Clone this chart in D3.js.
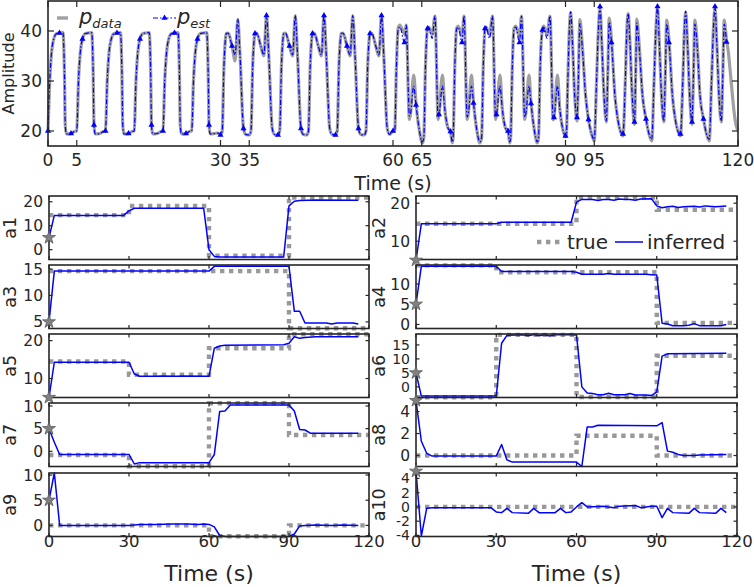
<!DOCTYPE html>
<html><head><meta charset="utf-8">
<script src="https://cdn.jsdelivr.net/npm/d3@7"></script>
<style>
body{margin:0;background:#fff}
svg{display:block}
text{font-family:"DejaVu Sans",sans-serif;fill:#262626}
</style>
</head><body>
<svg id="c" width="754" height="587"></svg>
<script>
// ---------------- top panel data (time s, amplitude) ----------------
const pEstPts = [
[0,20],[0.3,30],[0.6,35.5],[1,38.4],[1.5,39.5],[2,39.6],[2.6,39.7],[2.85,32],[3,21.2],[3.2,19.4],[4,19.5],[4.6,19.9],
[5,20],[5.3,30],[5.6,35.5],[6,38.4],[6.5,39.5],[7,39.6],[7.6,39.7],[7.85,32],[8,21.2],[8.2,19.4],[9,19.5],[9.6,19.9],
[10,20],[10.3,30],[10.6,35.5],[11,38.4],[11.5,39.5],[12,39.6],[12.6,39.7],[12.85,32],[13,21.2],[13.2,19.4],[14,19.5],[14.6,19.9],
[15,20],[15.3,30],[15.6,35.5],[16,38.4],[16.5,39.5],[17,39.6],[17.6,39.7],[17.85,32],[18,21.2],[18.2,19.4],[19,19.5],[19.6,19.9],
[20,20],[20.3,30],[20.6,35.5],[21,38.4],[21.5,39.5],[22,39.6],[22.6,39.7],[22.85,32],[23,21.2],[23.2,19.4],[24,19.5],[24.6,19.9],
[25,20],[25.3,30],[25.6,35.5],[26,38.4],[26.5,39.5],[27,39.6],[27.6,39.7],[27.85,32],[28,21.2],[28.2,19.4],[29,19.5],[29.6,19.6],
[30,19.2],
[30.3,20],[30.6,33],[30.9,38.8],[31,39.5],[31.3,39.6],[32,37],[32.55,35.2],[33,42.5],[33.4,35],[34,20.5],[34.4,19.3],[35,19.2],
[35.3,20],[35.6,33],[35.9,38.8],[36,39.5],[36.3,39.6],[37,37],[37.55,35.2],[38,43.1],[38.4,35],[39,20.5],[39.4,19.3],[40,19.2],
[40.3,20],[40.6,33],[40.9,38.8],[41,39.5],[41.3,39.6],[42,37],[42.55,35.2],[43,43.1],[43.4,35],[44,20.5],[44.4,19.3],[45,19.2],
[45.3,20],[45.6,33],[45.9,38.8],[46,39.5],[46.3,39.6],[47,37],[47.55,35.2],[48,43.1],[48.4,35],[49,20.5],[49.4,19.3],[50,19.2],
[50.3,20],[50.6,33],[50.9,38.8],[51,39.5],[51.3,39.6],[52,37],[52.55,35.2],[53,43.1],[53.4,35],[54,20.5],[54.4,19.3],[55,19.2],
[55.3,20],[55.6,33],[55.9,38.8],[56,39.5],[56.3,39.6],[57,37],[57.55,35.2],[58,43.1],[58.4,35],[59,20.5],[59.4,19.3],[60,20],
[60.3,20],[60.6,33],[60.9,40.3],[61.2,40.8],[62,37.7],[62.3,41.2],[62.85,23],[63.05,23.5],[63.6,29],[64,25.2],[64.6,20],[65.1,17.8],
[65.35,18.5],[65.65,33],[66,40.5],[66.2,40.8],[66.8,38.5],[67.3,43],[67.85,22.8],[68,23.3],[68.6,29],[69,24.5],[69.6,20.5],[70,19.9],[70.3,17.8],
[70.45,18.5],[70.75,33],[71.05,40.3],[71.35,40.8],[72,37.7],[72.35,43],[72.9,22.8],[73.1,23.5],[73.65,29],[74,25.6],[74.6,20],[75.1,17.8],
[75.4,18.5],[75.7,33],[76,40.5],[76.2,40.8],[76.8,38.5],[77.3,43],[77.85,22.8],[78,23.3],[78.6,29],[79,24.5],[79.6,20.5],[80,20],[80.3,17.8],
[80.45,18.5],[80.75,33],[81.05,40.3],[81.35,40.8],[82,37.7],[82.35,43],[82.9,22.8],[83.1,23.5],[83.65,29],[84,25.5],[84.6,20],[85.1,17.8],
[85.3,18.5],[85.6,33],[86,40.2],[86.2,40.8],[86.8,38.5],[87.3,43],[87.85,22.5],[88,22.7],[88.6,29],[89,24.5],[89.6,20],[90,19],
[90.15,19.2],[90.4,30],[90.7,41],[90.9,43.9],[91.2,38],[91.6,27],[92,22.7],[92.25,31],[92.5,41.5],[92.9,37],[93.5,27],[94,22.3],[94.5,19.5],[95,18.3],
[95.4,30],[95.75,41],[96,44.9],[96.3,38],[96.7,27],[97.1,22],[97.35,31],[97.6,41.8],[98,37.7],[98.6,27],[99.1,22.3],[99.6,19.8],[100,19.4],
[100.4,30],[100.7,41],[100.9,43.5],[101.2,38],[101.6,27],[102,21.8],[102.2,31],[102.4,41.6],[102.8,37],[103.4,27],[104,22.4],[104.5,19.5],[105,18.3],
[105.4,30],[105.75,41],[106,44.9],[106.3,38],[106.7,27],[107.1,22],[107.35,31],[107.6,41.4],[108,37.7],[108.6,27],[109.1,22.3],[109.6,19.8],[110,19.4],
[110.4,30],[110.7,41],[110.9,44],[111.2,38],[111.6,27],[112,21.8],[112.25,31],[112.5,41.4],[112.9,37],[113.4,27],[114,22.4],[114.5,19.5],[115,18.3],
[115.4,30],[115.75,41],[116,44.9],[116.3,38],[116.7,27],[117.1,22],[117.35,31],[117.6,41.4],[118,37.8]
];
const pDataPts = [
[0,20],[0.3,30],[0.6,35.5],[1,38.4],[1.5,39.5],[2,39.6],[2.6,39.7],[2.85,32],[3,21.2],[3.2,19.4],[4,19.5],[4.6,19.9],
[5,20],[5.3,30],[5.6,35.5],[6,38.4],[6.5,39.5],[7,39.6],[7.6,39.7],[7.85,32],[8,21.2],[8.2,19.4],[9,19.5],[9.6,19.9],
[10,20],[10.3,30],[10.6,35.5],[11,38.4],[11.5,39.5],[12,39.6],[12.6,39.7],[12.85,32],[13,21.2],[13.2,19.4],[14,19.5],[14.6,19.9],
[15,20],[15.3,30],[15.6,35.5],[16,38.4],[16.5,39.5],[17,39.6],[17.6,39.7],[17.85,32],[18,21.2],[18.2,19.4],[19,19.5],[19.6,19.9],
[20,20],[20.3,30],[20.6,35.5],[21,38.4],[21.5,39.5],[22,39.6],[22.6,39.7],[22.85,32],[23,21.2],[23.2,19.4],[24,19.5],[24.6,19.9],
[25,20],[25.3,30],[25.6,35.5],[26,38.4],[26.5,39.5],[27,39.6],[27.6,39.7],[27.85,32],[28,21.2],[28.2,19.4],[29,19.5],[29.6,19.6],
[30,19.2],
[30.3,20],[30.6,33],[30.9,38.8],[31,39.5],[31.3,39.6],[32,37],[32.55,34],[33,42.3],[33.4,35],[34,20.5],[34.4,19.3],[35,19.2],
[35.3,20],[35.6,33],[35.9,38.8],[36,39.5],[36.3,39.6],[37,37],[37.55,35],[38,43.1],[38.4,35],[39,20.5],[39.4,19.3],[40,19.2],
[40.3,20],[40.6,33],[40.9,38.8],[41,39.5],[41.3,39.6],[42,37],[42.55,35],[43,43.1],[43.4,35],[44,20.5],[44.4,19.3],[45,19.2],
[45.3,20],[45.6,33],[45.9,38.8],[46,39.5],[46.3,39.6],[47,37],[47.55,35],[48,43.1],[48.4,35],[49,20.5],[49.4,19.3],[50,19.2],
[50.3,20],[50.6,33],[50.9,38.8],[51,39.5],[51.3,39.6],[52,37],[52.55,35],[53,43.1],[53.4,35],[54,20.5],[54.4,19.3],[55,19.2],
[55.3,20],[55.6,33],[55.9,38.8],[56,39.5],[56.3,39.6],[57,37],[57.55,35],[58,43.1],[58.4,35],[59,20.5],[59.4,19.3],[60,20],
[60.3,20],[60.6,33],[60.9,40.6],[61.2,41.2],[62,39.4],[62.3,41.2],[62.85,22.3],[63.05,23.5],[63.6,31.2],[64,25.6],[64.6,20],[65.1,17.6],
[65.35,18.5],[65.65,33],[66,40.5],[66.2,40.8],[66.8,39.3],[67.3,43],[67.85,22.3],[68,23.3],[68.6,31.2],[69,24.5],[69.6,20.5],[70,19.9],[70.3,17.6],
[70.45,18.5],[70.75,33],[71.05,40.5],[71.35,41],[72,39],[72.35,43],[72.9,22.3],[73.1,23.5],[73.65,31.2],[74,25.8],[74.6,20],[75.1,17.6],
[75.4,18.5],[75.7,33],[76,40.5],[76.2,40.8],[76.8,39.3],[77.3,43],[77.85,22.3],[78,23.3],[78.6,31.2],[79,24.5],[79.6,20.5],[80,20],[80.3,17.6],
[80.45,18.5],[80.75,33],[81.05,40.5],[81.35,41],[82,39],[82.35,43],[82.9,22.3],[83.1,23.5],[83.65,31.2],[84,25.7],[84.6,20],[85.1,17.6],
[85.3,18.5],[85.6,33],[86,40.4],[86.2,41],[86.8,39.3],[87.3,43],[87.85,22.2],[88,22.7],[88.6,31.2],[89,24.5],[89.6,20],[90,18.8],
[90.15,19.2],[90.4,30],[90.7,41],[90.9,43.7],[91.2,38],[91.6,27],[92,22],[92.25,31],[92.5,42.3],[92.9,37.5],[93.5,27],[94,22.3],[94.5,19.5],[95,18],
[95.4,30],[95.75,41],[96,44.6],[96.3,38],[96.7,27],[97.1,21.8],[97.35,31],[97.6,42.6],[98,38.2],[98.6,27],[99.1,22.3],[99.6,19.8],[100,19],
[100.4,30],[100.7,41],[100.9,43.5],[101.2,38],[101.6,27],[102,21.3],[102.2,31],[102.4,42.4],[102.8,37.5],[103.4,27],[104,22.4],[104.5,19.5],[105,18],
[105.4,30],[105.75,41],[106,44.6],[106.3,38],[106.7,27],[107.1,21.8],[107.35,31],[107.6,42.2],[108,38.2],[108.6,27],[109.1,22.3],[109.6,19.8],[110,19],
[110.4,30],[110.7,41],[110.9,43.8],[111.2,38],[111.6,27],[112,21.3],[112.25,31],[112.5,42.2],[112.9,37.5],[113.4,27],[114,22.4],[114.5,19.5],[115,18],
[115.4,30],[115.75,41],[116,44.6],[116.3,38],[116.7,27],[117.1,21.8],[117.35,31],[117.6,42.2],[118,38.2],[118.3,36],[118.8,30],[119.3,24],[119.7,21],[120,20.2]
];
const topXTicks = [0,5,30,35,60,65,90,95,120];
const topYTicks = [20,30,40];
const topXDomain = [0,120];
const topYDomain = [17,46];

// ---------------- parameter panels ----------------
const segStarts = [0,30,60,90];
const segEnd = 120;
const priorValue = 5;
const subXTicks = [0,30,60,90,120];

const trueA1 = [14.4,18.2,-2.5,21.8];
const trueA2 = [14.6,14.6,21.5,18.3];
const trueA3 = [14.6,14.6,14.6,3.8];
const trueA4 = [14.6,12.9,12.9,0.4];
const trueA5 = [14.5,11.0,18.0,21.7];
const trueA6 = [-3.7,18.6,-3.6,11.1];
const trueA7 = [-0.8,-3.3,10.6,3.6];
const trueA8 = [0,0,1.8,0];
const trueA9 = [0,0,-2.15,0];
const trueA10 = [0,0,0,0];

const infA1 = [[0,5],[2,14.3],[28,14.3],[30,16.2],[32,17.3],[58,17.3],[60,0],[62,-2.8],[64,-3.1],[88,-3.1],[90,18.3],[92,20.2],[94,20.5],[100,20.7],[116,20.6]];
const infA2 = [[0,5],[2,14.6],[30,14.6],[32,15],[58,15],[60,20.3],[62,21],[66,21],[68,20.7],[70,21],[72,21],[74,20.8],[76,21.1],[78,21],[80,21],[82,20.8],[84,21.1],[88,21.2],[90,19.3],[92,18.8],[94,19.1],[96,19.2],[98,18.9],[100,19.1],[104,19.2],[106,19],[108,19.3],[112,19.1],[116,19.3]];
const infA3 = [[0,5],[2,14.6],[60,14.6],[62,15.5],[90,15.5],[92,7.0],[94,7.0],[96,4.8],[104,4.8],[106,4.6],[108,4.8],[114,4.8],[116,4.6]];
const infA4 = [[0,5],[2,14.4],[30,14.4],[32,13.1],[58,13.1],[60,12.9],[62,12.4],[70,12.4],[72,12.6],[74,12.4],[86,12.4],[88,12.3],[90,12.2],[92,0.3],[94,0.1],[96,-0.3],[100,-0.3],[102,-0.2],[104,0.2],[106,-0.3],[114,-0.3],[116,0]];
const infA5 = [[0,5],[2,14.3],[30,14.3],[32,11.2],[34,10.6],[40,10.6],[42,10.7],[48,10.6],[50,10.7],[60,10.6],[62,18],[64,18.6],[66,18.8],[88,18.9],[90,19.3],[92,21],[94,20.6],[96,20.8],[100,21],[116,21]];
const infA6 = [[0,5],[2,-3.3],[30,-3.3],[32,15.6],[34,18.4],[40,18.6],[42,18.3],[44,18.7],[46,18.3],[48,18.6],[50,18.2],[52,18.6],[58,18.6],[60,18.5],[62,0],[64,-2.2],[66,-2.4],[68,-2.8],[70,-2.8],[72,-2.3],[74,-2.8],[78,-2.8],[80,-2.4],[82,-2.9],[86,-2.9],[88,-3.1],[90,-1.8],[92,11],[94,11.8],[116,12]];
const infA7 = [[0,5],[2,2],[4,-0.7],[30,-0.7],[32,-2.8],[34,-2.5],[60,-2.5],[62,-0.7],[64,8.8],[66,8.9],[68,10.2],[90,10.2],[92,8.9],[94,4.8],[96,4.7],[98,4.0],[116,4.0]];
const infA8 = [[0,5],[2,1.3],[4,0.2],[6,-0.05],[30,-0.05],[32,1.0],[34,-0.4],[36,-0.6],[60,-0.6],[62,-1.0],[64,2.6],[66,2.6],[68,2.75],[90,2.7],[92,3.0],[94,0.4],[96,0.3],[98,0.1],[100,0],[104,0],[106,0.05],[116,0.1]];
const infA9 = [[0,5],[2,10.4],[4,0],[30,0],[34,0.2],[40,0.2],[46,0.3],[52,0.3],[56,0.2],[58,0.3],[60,0.2],[62,-0.3],[64,-2.0],[66,-2.2],[90,-2.2],[92,-1.7],[94,-0.1],[96,0],[100,0.1],[106,0],[110,0.1],[116,0]];
const infA10 = [[0,5],[2,-4.1],[4,-0.2],[6,-0.1],[28,-0.1],[30,-0.7],[32,-0.8],[34,-0.2],[36,-0.8],[42,-0.9],[44,-0.2],[46,-0.8],[52,-0.8],[54,-0.2],[56,-0.8],[58,-0.7],[60,0],[62,0.6],[64,0],[70,0.1],[74,-0.1],[76,0.1],[82,0.2],[84,-0.1],[88,0.1],[90,0.1],[92,-1.5],[94,-0.2],[96,-0.8],[102,-0.9],[104,-0.2],[106,-0.8],[112,-0.9],[114,-0.2],[116,-0.8]];

const yLimA1=[-4.1,22.4], yLimA2=[5.2,21.9], yLimA3=[3.75,15.75], yLimA4=[-1,14.7], yLimA5=[5,21.75],
      yLimA6=[-3.8,18.9], yLimA7=[-3.35,10.66], yLimA8=[-1,4.78], yLimA9=[-2.2,10.4], yLimA10=[-4.15,4.76];
const yTicksA1=[0,10,20], yTicksA2=[10,20], yTicksA3=[5,10,15], yTicksA4=[0,5,10], yTicksA5=[10,20],
      yTicksA6=[0,5,10,15], yTicksA7=[0,5,10], yTicksA8=[0,2,4], yTicksA9=[0,5,10], yTicksA10=[-4,-2,0,2,4];
const paramNames = ["a1","a2","a3","a4","a5","a6","a7","a8","a9","a10"];

const panels = [
 {tr:trueA1,inf:infA1,lim:yLimA1,ticks:yTicksA1},
 {tr:trueA2,inf:infA2,lim:yLimA2,ticks:yTicksA2},
 {tr:trueA3,inf:infA3,lim:yLimA3,ticks:yTicksA3},
 {tr:trueA4,inf:infA4,lim:yLimA4,ticks:yTicksA4},
 {tr:trueA5,inf:infA5,lim:yLimA5,ticks:yTicksA5},
 {tr:trueA6,inf:infA6,lim:yLimA6,ticks:yTicksA6},
 {tr:trueA7,inf:infA7,lim:yLimA7,ticks:yTicksA7},
 {tr:trueA8,inf:infA8,lim:yLimA8,ticks:yTicksA8},
 {tr:trueA9,inf:infA9,lim:yLimA9,ticks:yTicksA9},
 {tr:trueA10,inf:infA10,lim:yLimA10,ticks:yTicksA10}
].map((p,i)=>Object.assign(p,{name:paramNames[i]}));

// ---------------- drawing ----------------
const svg = d3.select("#c");
const AX = "#262626";
const GRAY = "#999999";
const BLUE = "#0000ff";

// ---- top panel
const T = {l:48, r:738, t:1, b:146};
const tx = d3.scaleLinear(topXDomain,[T.l,T.r]);
const ty = d3.scaleLinear(topYDomain,[T.b,T.t]);
const gTop = svg.append("g");
const lineTop = d3.line().x(d=>tx(d[0])).y(d=>ty(d[1])).curve(d3.curveMonotoneX);
gTop.append("path").attr("d",lineTop(pDataPts)).attr("fill","none")
  .attr("stroke","#a0a0a0").attr("stroke-width",3.2).attr("stroke-linejoin","round");
gTop.append("path").attr("d",lineTop(pEstPts)).attr("fill","none")
  .attr("stroke",BLUE).attr("stroke-width",1.2).attr("stroke-dasharray","5,2,1.5,2");
const tri = d3.symbol().type(d3.symbolTriangle).size(16);
gTop.selectAll("path.mk").data(pEstPts.filter(d=>Math.abs(d[0]/2-Math.round(d[0]/2))<1e-9))
  .join("path").attr("class","mk").attr("d",tri)
  .attr("transform",d=>`translate(${tx(d[0])},${ty(d[1])})`).attr("fill",BLUE);
// frame and ticks
gTop.append("rect").attr("x",T.l).attr("y",T.t).attr("width",T.r-T.l).attr("height",T.b-T.t)
  .attr("fill","none").attr("stroke",AX).attr("stroke-width",1.6);
topXTicks.forEach(v=>{
  gTop.append("line").attr("x1",tx(v)).attr("x2",tx(v)).attr("y1",T.b).attr("y2",T.b-6).attr("stroke",AX).attr("stroke-width",1.2);
  gTop.append("line").attr("x1",tx(v)).attr("x2",tx(v)).attr("y1",T.t).attr("y2",T.t+6).attr("stroke",AX).attr("stroke-width",1.2);
  gTop.append("text").attr("x",tx(v)).attr("y",160).attr("dy","0.36em").attr("text-anchor","middle").attr("font-size",17).text(v);
});
topYTicks.forEach(v=>{
  gTop.append("line").attr("x1",T.l).attr("x2",T.l+6).attr("y1",ty(v)).attr("y2",ty(v)).attr("stroke",AX).attr("stroke-width",1.2);
  gTop.append("line").attr("x1",T.r).attr("x2",T.r-6).attr("y1",ty(v)).attr("y2",ty(v)).attr("stroke",AX).attr("stroke-width",1.2);
  gTop.append("text").attr("x",T.l-6).attr("y",ty(v)).attr("dy","0.36em").attr("text-anchor","end").attr("font-size",17).text(v);
});
gTop.append("text").attr("transform",`translate(14,${(T.t+T.b)/2}) rotate(-90)`).attr("text-anchor","middle")
  .attr("font-size",16).text("Amplitude");
gTop.append("text").attr("x",(T.l+T.r)/2).attr("y",183).attr("dy","0.36em").attr("text-anchor","middle")
  .attr("font-size",19).text("Time (s)");
// legend
gTop.append("line").attr("x1",57).attr("x2",68).attr("y1",18).attr("y2",18).attr("stroke","#a0a0a0").attr("stroke-width",3.4);
const lt1 = gTop.append("text").attr("x",79).attr("y",24).attr("font-family","DejaVu Serif").attr("font-style","italic").attr("font-size",21);
lt1.append("tspan").text("p");
lt1.append("tspan").attr("dy",3.5).attr("font-size",13).text("data");
gTop.append("line").attr("x1",153).attr("x2",176).attr("y1",18).attr("y2",18).attr("stroke",BLUE).attr("stroke-width",1.2).attr("stroke-dasharray","5,2,1.5,2");
gTop.append("path").attr("d",tri).attr("transform","translate(164.5,18)").attr("fill",BLUE);
const lt2 = gTop.append("text").attr("x",177).attr("y",24).attr("font-family","DejaVu Serif").attr("font-style","italic").attr("font-size",21);
lt2.append("tspan").text("p");
lt2.append("tspan").attr("dy",3.5).attr("font-size",13).text("est");

// ---- subpanels
const cols = [[49,369],[416,737]];
const rowTops = [196,265,334,403,473];
const rowH = 63.5;
const labelX = [10,379];
const star = d3.symbol().type(d3.symbolStar).size(52);

panels.forEach((p,i)=>{
  const c = i%2, r = Math.floor(i/2);
  const x0 = cols[c][0], x1 = cols[c][1], y0 = rowTops[r], y1 = rowTops[r]+rowH;
  const x = d3.scaleLinear([0,120],[x0,x1]);
  const y = d3.scaleLinear(p.lim,[y1,y0]);
  const g = svg.append("g");
  // true (step)
  const stepData = segStarts.map((s,k)=>[s,p.tr[k]]).concat([[segEnd,p.tr[p.tr.length-1]]]);
  g.append("path").attr("d",d3.line().x(d=>x(d[0])).y(d=>y(d[1])).curve(d3.curveStepAfter)(stepData))
    .attr("fill","none").attr("stroke",GRAY).attr("stroke-width",4.4).attr("stroke-dasharray","4.4,4.6");
  // inferred
  g.append("path").attr("d",d3.line().x(d=>x(d[0])).y(d=>y(d[1]))(p.inf))
    .attr("fill","none").attr("stroke",BLUE).attr("stroke-width",1.5).attr("stroke-linejoin","round");
  // frame
  g.append("rect").attr("x",x0).attr("y",y0).attr("width",x1-x0).attr("height",y1-y0)
    .attr("fill","none").attr("stroke",AX).attr("stroke-width",1.6);
  subXTicks.forEach(v=>{
    g.append("line").attr("x1",x(v)).attr("x2",x(v)).attr("y1",y1).attr("y2",y1-3.5).attr("stroke",AX).attr("stroke-width",1.2);
    g.append("line").attr("x1",x(v)).attr("x2",x(v)).attr("y1",y0).attr("y2",y0+3.5).attr("stroke",AX).attr("stroke-width",1.2);
    if(r===4) g.append("text").attr("x",x(v)).attr("y",541).attr("dy","0.36em").attr("text-anchor","middle").attr("font-size",16.5).text(v);
  });
  p.ticks.forEach(v=>{
    g.append("line").attr("x1",x0).attr("x2",x0+3.5).attr("y1",y(v)).attr("y2",y(v)).attr("stroke",AX).attr("stroke-width",1.2);
    g.append("line").attr("x1",x1).attr("x2",x1-3.5).attr("y1",y(v)).attr("y2",y(v)).attr("stroke",AX).attr("stroke-width",1.2);
    g.append("text").attr("x",x0-6).attr("y",y(v)).attr("dy","0.36em").attr("text-anchor","end")
      .attr("font-size",p.ticks.length>3?14:15.5).text(v);
  });
  // prior star
  g.append("path").attr("d",star).attr("transform",`translate(${x(0)},${y(priorValue)})`)
    .attr("fill","#808080").attr("stroke","#5a5a5a").attr("stroke-width",0.8);
  g.append("text").attr("transform",`translate(${labelX[c]},${(y0+y1)/2}) rotate(-90)`).attr("dy","0.36em")
    .attr("text-anchor","middle").attr("font-size",17.5).text(p.name);
  if(r===4) g.append("text").attr("x",(x0+x1)/2).attr("y",573).attr("dy","0.36em").attr("text-anchor","middle")
    .attr("font-size",22).text("Time (s)");
  if(i===1){
    g.append("line").attr("x1",537).attr("x2",564).attr("y1",242).attr("y2",242).attr("stroke",GRAY)
      .attr("stroke-width",4.4).attr("stroke-dasharray","4.4,4.6");
    g.append("text").attr("x",567).attr("y",242).attr("dy","0.36em").attr("font-size",20).text("true");
    g.append("line").attr("x1",615).attr("x2",643).attr("y1",242).attr("y2",242).attr("stroke",BLUE).attr("stroke-width",1.5);
    g.append("text").attr("x",647).attr("y",242).attr("dy","0.36em").attr("font-size",20).text("inferred");
  }
});
</script>
</body></html>
